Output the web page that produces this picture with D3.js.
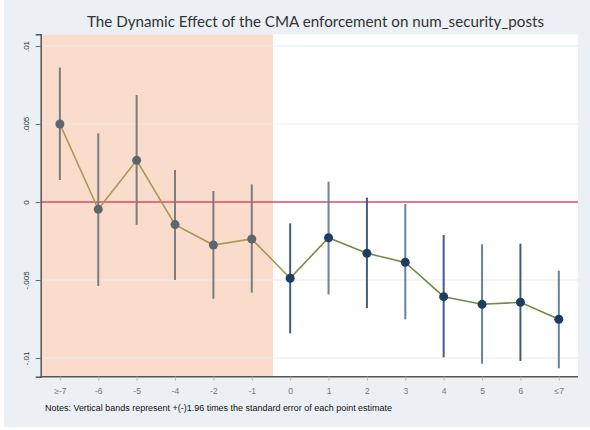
<!DOCTYPE html>
<html>
<head>
<meta charset="utf-8">
<script src="https://cdn.jsdelivr.net/npm/d3@7"></script>
<style>
  html, body { margin: 0; padding: 0; background: #ffffff; }
  svg { display: block; }
</style>
</head>
<body>
<svg id="chart" width="590" height="430"></svg>
<script>
// Event-study periods relative to enforcement
const periods = ["≥-7", "-6", "-5", "-4", "-2", "-1", "0", "1", "2", "3", "4", "5", "6", "≤7"];
// Point estimates
const estimates = [0.0050, -0.00047, 0.00267, -0.00145, -0.00276, -0.00237, -0.00489, -0.00229, -0.00329, -0.00387, -0.00607, -0.00656, -0.00643, -0.00752];
// 95% confidence bounds
const ciLower = [0.00141, -0.00538, -0.00147, -0.0050, -0.0062, -0.00581, -0.00842, -0.00592, -0.00681, -0.00752, -0.00996, -0.01037, -0.01019, -0.01066];
const ciUpper = [0.00861, 0.0044, 0.00686, 0.00205, 0.0007, 0.00113, -0.00137, 0.0013, 0.00028, -0.00013, -0.00212, -0.00271, -0.00267, -0.0044];
// Y axis ticks
const yTicks = [0.01, 0.005, 0, -0.005, -0.01];
const yTickLabels = [".01", ".005", "0", "-.005", "-.01"];
// Number of pre-treatment periods (shaded)
const preCount = 6;

const titleText = "The Dynamic Effect of the CMA enforcement on num_security_posts";
const noteText = "Notes: Vertical bands represent +(-)1.96 times the standard error of each point estimate";

const W = 590, H = 430;
const plot = { left: 40.7, right: 578, top: 34.3, bottom: 376.7 };

const svg = d3.select("#chart");

// outer background
svg.append("rect").attr("x", 4).attr("y", 0).attr("width", W - 4).attr("height", H - 3)
  .attr("fill", "#eaf0f3");

const x = d3.scalePoint().domain(periods).range([plot.left, plot.right]).padding(0.5);
const y = d3.scaleLinear().domain([-0.0112, 0.01075]).range([plot.bottom, plot.top]);

// plot area
svg.append("rect").attr("x", plot.left).attr("y", plot.top)
  .attr("width", plot.right - plot.left).attr("height", plot.bottom - plot.top)
  .attr("fill", "#ffffff");

// pre-treatment shading
const shadeRight = (x(periods[preCount - 1]) + x(periods[preCount])) / 2 + 2;
svg.append("rect").attr("x", plot.left).attr("y", plot.top)
  .attr("width", shadeRight - plot.left).attr("height", plot.bottom - plot.top)
  .attr("fill", "#f9dccb");

// grid lines
svg.append("g").selectAll("line").data(yTicks.filter(v => v !== 0)).join("line")
  .attr("x1", plot.left).attr("x2", plot.right)
  .attr("y1", d => y(d)).attr("y2", d => y(d))
  .attr("stroke", "#e6eef1").attr("stroke-width", 1);

// zero reference line
svg.append("line").attr("x1", plot.left).attr("x2", plot.right)
  .attr("y1", y(0)).attr("y2", y(0))
  .attr("stroke", "#e04a68").attr("stroke-width", 1.6);

// y axis
const yAxis = d3.axisLeft(y).tickValues(yTicks)
  .tickFormat((d, i) => yTickLabels[i]).tickSize(5).tickPadding(6);
const gy = svg.append("g").attr("transform", `translate(${plot.left},0)`).call(yAxis);
gy.select(".domain").attr("stroke", "#555").attr("stroke-width", 1.5);
gy.selectAll(".tick line").attr("stroke", "#666");
gy.selectAll(".tick text")
  .attr("font-family", "Liberation Sans, Arial, sans-serif").attr("font-size", 8).attr("fill", "#333")
  .attr("text-anchor", "middle").attr("x", 0).attr("dy", 0)
  .attr("transform", "translate(-12,0) rotate(-90)");

// x axis
const xAxis = d3.axisBottom(x).tickSize(4).tickPadding(7);
const gx = svg.append("g").attr("transform", `translate(0,${plot.bottom})`).call(xAxis);
gx.select(".domain").attr("stroke", "#555").attr("stroke-width", 1.5)
  .attr("d", `M${plot.left},0H${plot.right}`);
gx.selectAll(".tick line").attr("stroke", "#bbb");
gx.selectAll(".tick text")
  .attr("font-family", "Liberation Sans, Arial, sans-serif").attr("font-size", 8.5).attr("fill", "#777");

// confidence intervals
const data = periods.map((p, i) => ({ p, i, est: estimates[i], lo: ciLower[i], hi: ciUpper[i], pre: i < preCount }));
svg.append("g").selectAll("line").data(data).join("line")
  .attr("x1", d => x(d.p)).attr("x2", d => x(d.p))
  .attr("y1", d => y(d.lo)).attr("y2", d => y(d.hi))
  .attr("stroke", d => d.pre ? "#7d7d7d" : (d.i % 2 === 0 ? "#3d5f85" : "#6583a4"))
  .attr("stroke-width", 2);

// connecting line (pre segment and post segment coloured separately)
const line = d3.line().x(d => x(d.p)).y(d => y(d.est));
svg.append("path").datum(data.slice(0, preCount + 1)).attr("d", line)
  .attr("fill", "none").attr("stroke", "#a59a52").attr("stroke-width", 1.6);
svg.append("path").datum(data.slice(preCount)).attr("d", line)
  .attr("fill", "none").attr("stroke", "#6f8f3f").attr("stroke-width", 1.6);

// point estimates
svg.append("g").selectAll("circle").data(data).join("circle")
  .attr("cx", d => x(d.p)).attr("cy", d => y(d.est)).attr("r", 4.5)
  .attr("fill", d => d.pre ? "#5f656e" : "#1d3d63");

// title
svg.append("text").attr("x", 315.5).attr("y", 27).attr("text-anchor", "middle")
  .attr("font-family", "Lato, Noto Sans, sans-serif").attr("font-size", 16).attr("fill", "#333")
  .attr("textLength", 457).attr("lengthAdjust", "spacingAndGlyphs")
  .text(titleText);

// note
svg.append("text").attr("x", 45).attr("y", 411)
  .attr("font-family", "Liberation Sans, Arial, sans-serif").attr("font-size", 8.3).attr("fill", "#111")
  .attr("textLength", 347).attr("lengthAdjust", "spacingAndGlyphs")
  .text(noteText);
</script>
</body>
</html>
